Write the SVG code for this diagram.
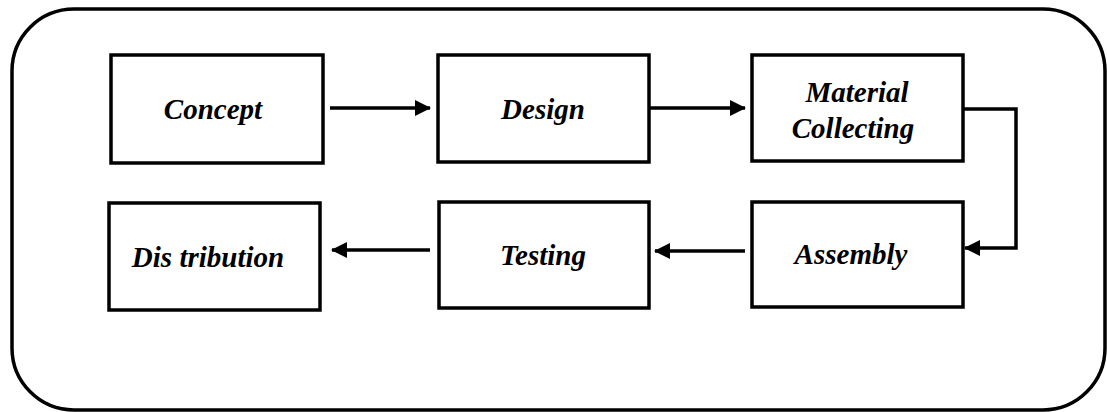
<svg xmlns="http://www.w3.org/2000/svg" width="1107" height="412" viewBox="0 0 1107 412">
<style>
.box{fill:#fff;stroke:#000;stroke-width:3.5}
.lbl{font-family:'Liberation Serif','Times New Roman','DejaVu Serif',serif;font-weight:700;font-style:italic;font-size:29px;fill:#000;text-anchor:middle}
.con{fill:none;stroke:#000;stroke-width:3.5}
</style>
<defs>
<marker id="ah" viewBox="0 0 16 16" refX="15" refY="8" markerWidth="16" markerHeight="16" markerUnits="userSpaceOnUse" orient="auto">
<path d="M0,0 L16,8 L0,16 Z" fill="#000"/>
</marker>
</defs>
<rect id="frame" x="12" y="9" width="1093" height="401" rx="62" ry="62" fill="#fff" stroke="#000" stroke-width="3.5"/>
<g id="concept"><rect class="box" x="111" y="55" width="212" height="108"/><text class="lbl" x="213" y="119">Concept</text></g>
<g id="design"><rect class="box" x="438" y="55" width="211" height="107"/><text class="lbl" x="543" y="119">Design</text></g>
<g id="material"><rect class="box" x="752" y="55" width="211" height="106"/><text class="lbl" x="857" y="102">Material</text><text class="lbl" x="853" y="138">Collecting</text></g>
<g id="assembly"><rect class="box" x="752" y="202" width="211" height="105"/><text class="lbl" x="851" y="264">Assembly</text></g>
<g id="testing"><rect class="box" x="439" y="202" width="210" height="106"/><text class="lbl" x="543" y="265">Testing</text></g>
<g id="distribution"><rect class="box" x="109" y="203" width="211" height="107"/><text class="lbl" x="208" y="267">Dis tribution</text></g>
<g id="connectors">
<line class="con" x1="330" y1="108" x2="430" y2="108" marker-end="url(#ah)"/>
<line class="con" x1="649" y1="108" x2="745" y2="108" marker-end="url(#ah)"/>
<polyline class="con" points="963,109 1016,109 1016,248 965,248" marker-end="url(#ah)"/>
<line class="con" x1="745" y1="251" x2="655" y2="251" marker-end="url(#ah)"/>
<line class="con" x1="430" y1="250" x2="332" y2="250" marker-end="url(#ah)"/>
</g>
</svg>
